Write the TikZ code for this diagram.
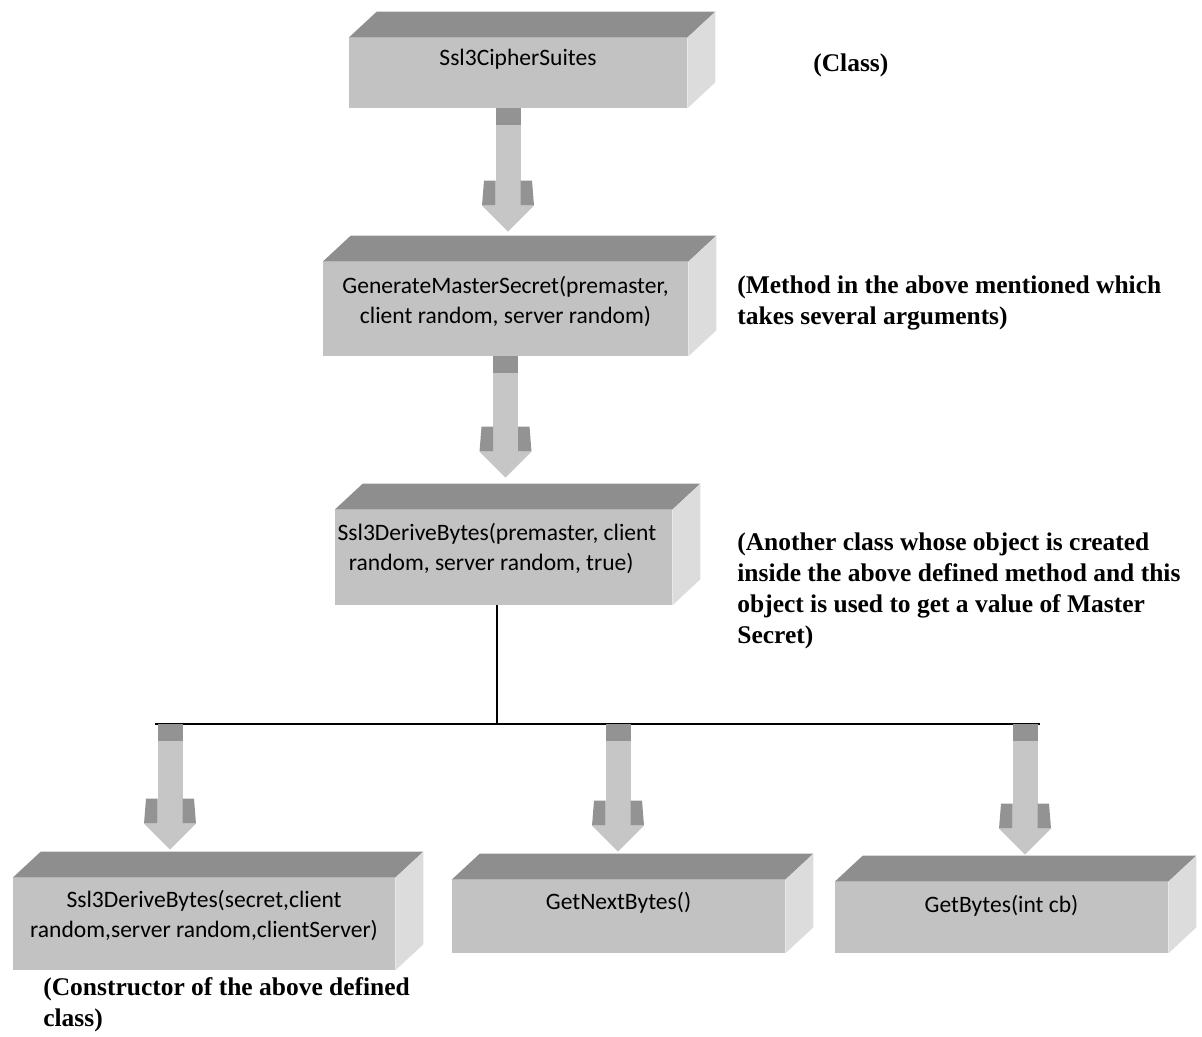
\documentclass[tikz,border=0pt]{standalone}
\usepackage{fontspec}
\setmainfont{Liberation Serif}
\newfontfamily\boxfont{Carlito}
\usetikzlibrary{calc}
\definecolor{boxfront}{HTML}{C2C2C2}
\definecolor{boxtop}{HTML}{8E8E8E}
\definecolor{boxside}{HTML}{DCDCDC}
\definecolor{arrowbody}{HTML}{C6C6C6}
\definecolor{arrowdark}{HTML}{939393}
\tikzset{
	classbox/.style={fill=boxfront, inner sep=0pt, align=center, font=\boxfont\fontsize{13.4}{17}\selectfont},
	remark/.style={inner sep=0pt, align=left, anchor=west, font=\bfseries\fontsize{14.5}{17.6}\selectfont},
	wire/.style={line width=0.7pt},
}
% top and right faces of a box
\newcommand{\boxfaces}[1]{%
	\fill[boxtop] (#1.north west) -- ++(28,-26) -- ($(#1.north east)+(28,-26)$) -- (#1.north east) -- cycle;
	\fill[boxside] (#1.north east) -- ++(28,-26) -- ($(#1.south east)+(28,-26)$) -- (#1.south east) -- cycle;}
% block arrow from #1 down to #2
\newcommand{\blockarrow}[2]{%
	\fill[arrowbody] ($(#1)+(-12.5,0)$) rectangle ($(#1|-#2)+(12.5,-26)$);
	\fill[arrowdark] ($(#1)+(-12.5,0)$) rectangle ($(#1)+(12.5,17)$);
	\fill[arrowdark] ($(#1|-#2)+(-12.5,-51)$) -- ($(#1|-#2)+(-24,-51)$) -- ($(#1|-#2)+(-26,-26)$) -- ($(#1|-#2)+(-12.5,-26)$) -- cycle;
	\fill[arrowdark] ($(#1|-#2)+(12.5,-51)$) -- ($(#1|-#2)+(24,-51)$) -- ($(#1|-#2)+(26,-26)$) -- ($(#1|-#2)+(12.5,-26)$) -- cycle;
	\fill[arrowbody] ($(#1|-#2)+(-26,-26)$) -- ($(#1|-#2)+(26,-26)$) -- (#1|-#2) -- cycle;}
\begin{document}
\begin{tikzpicture}[x=0.02cm, y=-0.02cm]
	\useasboundingbox (0,0) rectangle (1202,1036);
	\node[classbox, minimum width=6.76cm, minimum height=1.40cm, text depth=18pt] (cs) at (518,73) {Ssl3CipherSuites};
	\node[classbox, minimum width=7.30cm, minimum height=1.88cm, text depth=10pt] (gms) at (505.5,309) {GenerateMasterSecret(premaster,\\client random, server random)};
	\node[classbox, minimum width=6.74cm, minimum height=1.90cm, text depth=12.5pt] (sdb) at (503.5,557.5) {Ssl3DeriveBytes(premaster, client\hspace*{7.5pt}\\random, server random, true)\hspace*{14pt}};
	\node[classbox, minimum width=7.64cm, minimum height=1.84cm, text depth=12pt] (ctor) at (204,924) {Ssl3DeriveBytes(secret,client\\random,server random,clientServer)};
	\node[classbox, minimum width=6.66cm, minimum height=1.46cm, text depth=18pt] (next) at (618.5,916.5) {GetNextBytes()};
	\node[classbox, minimum width=6.66cm, minimum height=1.42cm, text depth=15pt] (bytes) at (1001.5,917.5) {GetBytes(int cb)};
	\foreach \b in {cs,gms,sdb,ctor,next,bytes} \boxfaces{\b};
	\node[remark] (rcs) at (813,65) {(Class)};
	\node[remark] (rgms) at (737,303) {(Method in the above mentioned which\\takes several arguments)};
	\node[remark] (rsdb) at (737,591) {(Another class whose object is created\\inside the above defined method and this\\object is used to get a value of Master\\Secret)};
	\node[remark] (rctor) at (43,1005) {(Constructor of the above defined\\class)};
	\coordinate (a1) at ($(cs.south)+(-10,0)$); \coordinate (a1t) at ($(gms.north)+(2.5,-30)$);
	\coordinate (a2) at ($(gms.south)+(0,0)$); \coordinate (a2t) at ($(sdb.north)+(1.5,-32)$);
	\blockarrow{a1}{a1t} \blockarrow{a2}{a2t}
	\coordinate (split) at (497,724); \coordinate (hl) at (155,724); \coordinate (hr) at (1040,724);
	\draw[wire] (sdb.south -| split) -- (split);
	\draw[wire] (hl) -- (hr);
	\coordinate (b1) at (170,724); \coordinate (b2) at (618,724); \coordinate (b3) at (1025,724);
	\coordinate (b1t) at ($(ctor.north)+(-34,-28)$); \coordinate (b2t) at ($(next.north)+(0,-28)$); \coordinate (b3t) at ($(bytes.north)+(23.5,-27)$);
	\blockarrow{b1}{b1t} \blockarrow{b2}{b2t} \blockarrow{b3}{b3t}
\end{tikzpicture}
\end{document}
